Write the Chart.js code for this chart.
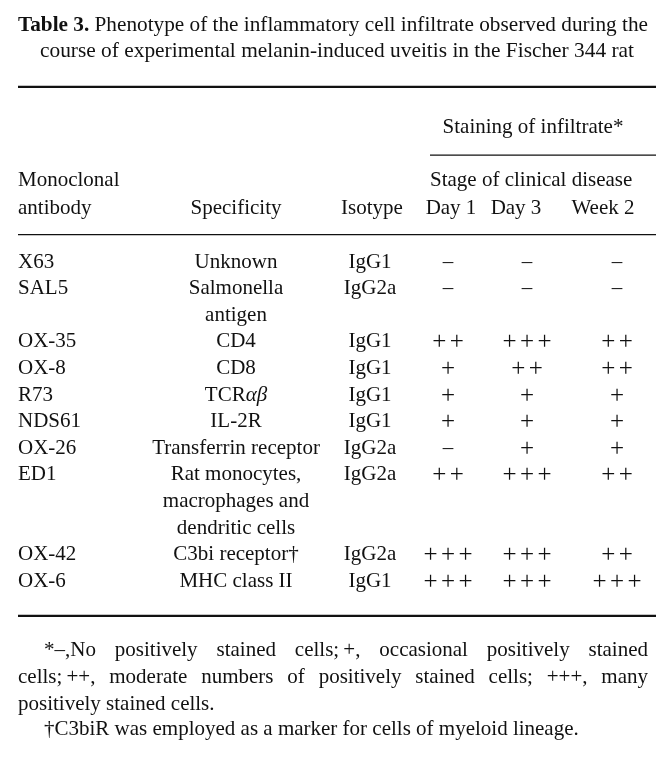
<!DOCTYPE html>
<html>
<head>
<meta charset="utf-8">
<script src="https://cdn.jsdelivr.net/npm/chart.js@4.4.1/dist/chart.umd.min.js"></script>
<style>
  html, body { margin: 0; padding: 0; background: #fff; }
  #wrap { width: 666px; height: 769px; }
</style>
</head>
<body>
<div id="wrap"><canvas id="tableChart" width="666" height="769"></canvas></div>
<script>
// Table data
const antibodies = ['X63', 'SAL5', 'OX-35', 'OX-8', 'R73', 'NDS61', 'OX-26', 'ED1', 'OX-42', 'OX-6'];
const specificity = [
    ['Unknown'],
    ['Salmonella', 'antigen'],
    ['CD4'],
    ['CD8'],
    ['TCRαβ'],
    ['IL-2R'],
    ['Transferrin receptor'],
    ['Rat monocytes,', 'macrophages and', 'dendritic cells'],
    ['C3bi receptor†'],
    ['MHC class II']
];
const isotype = ['IgG1', 'IgG2a', 'IgG1', 'IgG1', 'IgG1', 'IgG1', 'IgG2a', 'IgG2a', 'IgG2a', 'IgG1'];
const day1 = ['–', '–', '++', '+', '+', '+', '–', '++', '+++', '+++'];
const day3 = ['–', '–', '+++', '++', '+', '+', '+', '+++', '+++', '+++'];
const week2 = ['–', '–', '++', '++', '+', '+', '+', '++', '++', '+++'];

const titleBold = 'Table 3.';
const titleLines = [
    ' Phenotype of the inflammatory cell infiltrate observed during the',
    'course of experimental melanin-induced uveitis in the Fischer 344 rat'
];
// thin spaces (\u2009) keep "cells; +," together when the line is justified
const footnotes = [
    '*–,No positively stained cells;\u2009+, occasional positively stained',
    'cells;\u2009++, moderate numbers of positively stained cells; +++, many',
    'positively stained cells.',
    '†C3biR was employed as a marker for cells of myeloid lineage.'
];

// Layout (pixels / line units)
const FONT = '"Liberation Serif", "Times New Roman", serif';
const SIZE = 21;
const ROW0_PX = 262;      // first body row
const LINE_PX = 26.6;     // one text line
const LEFT = 18, RIGHT = 656;
const COL = { antibody: 18, specificity: 236, isotype: 370, day1: 448, day3: 527, week2: 617 };

// body rows start at the cumulative count of specificity lines
let acc = 0;
const rowStart = specificity.map(s => { const r = acc; acc += s.length; return r; });

const columns = [
    { key: 'antibody', texts: antibodies, align: 'left' },
    { key: 'specificity', texts: specificity, align: 'center' },
    { key: 'isotype', texts: isotype, align: 'center' },
    { key: 'day1', texts: day1, align: 'sign' },
    { key: 'day3', texts: day3, align: 'sign' },
    { key: 'week2', texts: week2, align: 'sign' }
];

function font(size, bold, italic) {
    return (italic ? 'italic ' : '') + (bold ? 'bold ' : '') + size + 'px ' + FONT;
}

// text with italic greek letters
function drawRich(ctx, text, x, y, align) {
    const runs = text.split(/([α-ω]+)/).filter(Boolean).map(t => ({ t, it: /[α-ω]/.test(t) }));
    let w = 0;
    runs.forEach(r => { ctx.font = font(SIZE, false, r.it); r.w = ctx.measureText(r.t).width; w += r.w; });
    let cx = align === 'center' ? x - w / 2 : x;
    ctx.textAlign = 'left';
    runs.forEach(r => { ctx.font = font(SIZE, false, r.it); ctx.fillText(r.t, cx, y); cx += r.w; });
}

function drawSign(ctx, text, x, y) {
    ctx.textAlign = 'center';
    if (text === '–') {
        ctx.font = font(SIZE);
        ctx.fillText('–', x, y);
        return;
    }
    const pitch = 17.5;
    ctx.font = font(25);
    for (let k = 0; k < text.length; k++) {
        ctx.fillText('+', x - (text.length - 1) * pitch / 2 + k * pitch, y + 1);
    }
}

// squeeze / stretch a run of segments into a given width
function drawFitted(ctx, segs, x0, x1, y) {
    let w = 0;
    segs.forEach(s => { ctx.font = s.font; s.w = ctx.measureText(s.t).width; w += s.w; });
    const sc = (x1 - x0) / w;
    ctx.save();
    ctx.translate(x0, y);
    ctx.scale(sc, 1);
    ctx.textAlign = 'left';
    let cx = 0;
    segs.forEach(s => { ctx.font = s.font; ctx.fillText(s.t, cx, 0); cx += s.w; });
    ctx.restore();
}

function drawJustified(ctx, text, x0, x1, y) {
    ctx.font = font(SIZE);
    ctx.textAlign = 'left';
    const words = text.split(' ');
    const widths = words.map(wd => ctx.measureText(wd).width);
    const total = widths.reduce((a, b) => a + b, 0);
    const gap = (x1 - x0 - total) / (words.length - 1);
    let cx = x0;
    words.forEach((wd, i) => { ctx.fillText(wd, cx, y); cx += widths[i] + gap; });
}

function rule(ctx, x0, x1, y, lw) {
    ctx.beginPath();
    ctx.lineWidth = lw;
    ctx.strokeStyle = '#111';
    ctx.moveTo(x0, y);
    ctx.lineTo(x1, y);
    ctx.stroke();
}

const tablePlugin = {
    id: 'tablePlugin',
    afterDatasetsDraw(chart) {
        const ctx = chart.ctx;
        const xs = chart.scales.x, ys = chart.scales.y;
        const X = v => xs.getPixelForValue(v);
        const Y = v => ys.getPixelForValue(v);
        ctx.save();
        ctx.fillStyle = '#111';
        ctx.textBaseline = 'middle';

        // title
        drawFitted(ctx, [{ t: titleBold, font: font(SIZE, true) }, { t: titleLines[0], font: font(SIZE) }], X(18), X(648), Y(-8.88));
        drawFitted(ctx, [{ t: titleLines[1], font: font(SIZE) }], X(40), X(634), Y(-7.9));

        // rules
        rule(ctx, X(LEFT), X(RIGHT), Y(-6.58), 2.2);
        rule(ctx, X(430), X(RIGHT), Y(-4.02), 1.2);
        rule(ctx, X(LEFT), X(RIGHT), Y(-1.03), 1.2);
        rule(ctx, X(LEFT), X(RIGHT), Y(13.3), 2.2);

        // headers
        ctx.font = font(SIZE);
        ctx.textAlign = 'center';
        ctx.fillText('Staining of infiltrate*', X(533), Y(-5.05));
        ctx.textAlign = 'left';
        ctx.fillText('Monoclonal', X(18), Y(-3.05));
        ctx.fillText('antibody', X(18), Y(-2.02));
        ctx.fillText('Stage of clinical disease', X(430), Y(-3.05));
        ctx.textAlign = 'center';
        ctx.fillText('Specificity', X(236), Y(-2.02));
        ctx.fillText('Isotype', X(372), Y(-2.02));
        ctx.fillText('Day 1', X(451), Y(-2.02));
        ctx.fillText('Day 3', X(516), Y(-2.02));
        ctx.fillText('Week 2', X(603), Y(-2.02));

        // body cells, placed at each point of the datasets
        columns.forEach((col, d) => {
            const meta = chart.getDatasetMeta(d);
            meta.data.forEach((pt, i) => {
                const val = col.texts[i];
                if (Array.isArray(val)) {
                    val.forEach((line, k) => drawRich(ctx, line, pt.x, Y(rowStart[i] + k), col.align));
                } else if (col.align === 'sign') {
                    drawSign(ctx, val, pt.x, pt.y);
                } else {
                    drawRich(ctx, val, pt.x, pt.y, col.align);
                }
            });
        });

        // footnotes
        drawJustified(ctx, footnotes[0], X(44), X(648), Y(14.62));
        drawJustified(ctx, footnotes[1], X(18), X(648), Y(15.63));
        ctx.font = font(SIZE);
        ctx.textAlign = 'left';
        ctx.fillText(footnotes[2], X(18), Y(16.63));
        ctx.fillText(footnotes[3], X(44), Y(17.58));
        ctx.restore();
    }
};

const chart = new Chart(document.getElementById('tableChart'), {
    type: 'scatter',
    data: {
        datasets: columns.map(col => ({
            label: col.key,
            data: col.texts.map((_, i) => ({ x: COL[col.key], y: rowStart[i] })),
            pointRadius: 0,
            pointHoverRadius: 0
        }))
    },
    options: {
        responsive: false,
        animation: false,
        layout: { padding: 0 },
        plugins: { legend: { display: false }, tooltip: { enabled: false } },
        scales: {
            x: { type: 'linear', display: false, min: 0, max: 666 },
            y: { type: 'linear', display: false, reverse: true, min: -ROW0_PX / LINE_PX, max: (769 - ROW0_PX) / LINE_PX }
        }
    },
    plugins: [tablePlugin]
});
</script>
</body>
</html>
